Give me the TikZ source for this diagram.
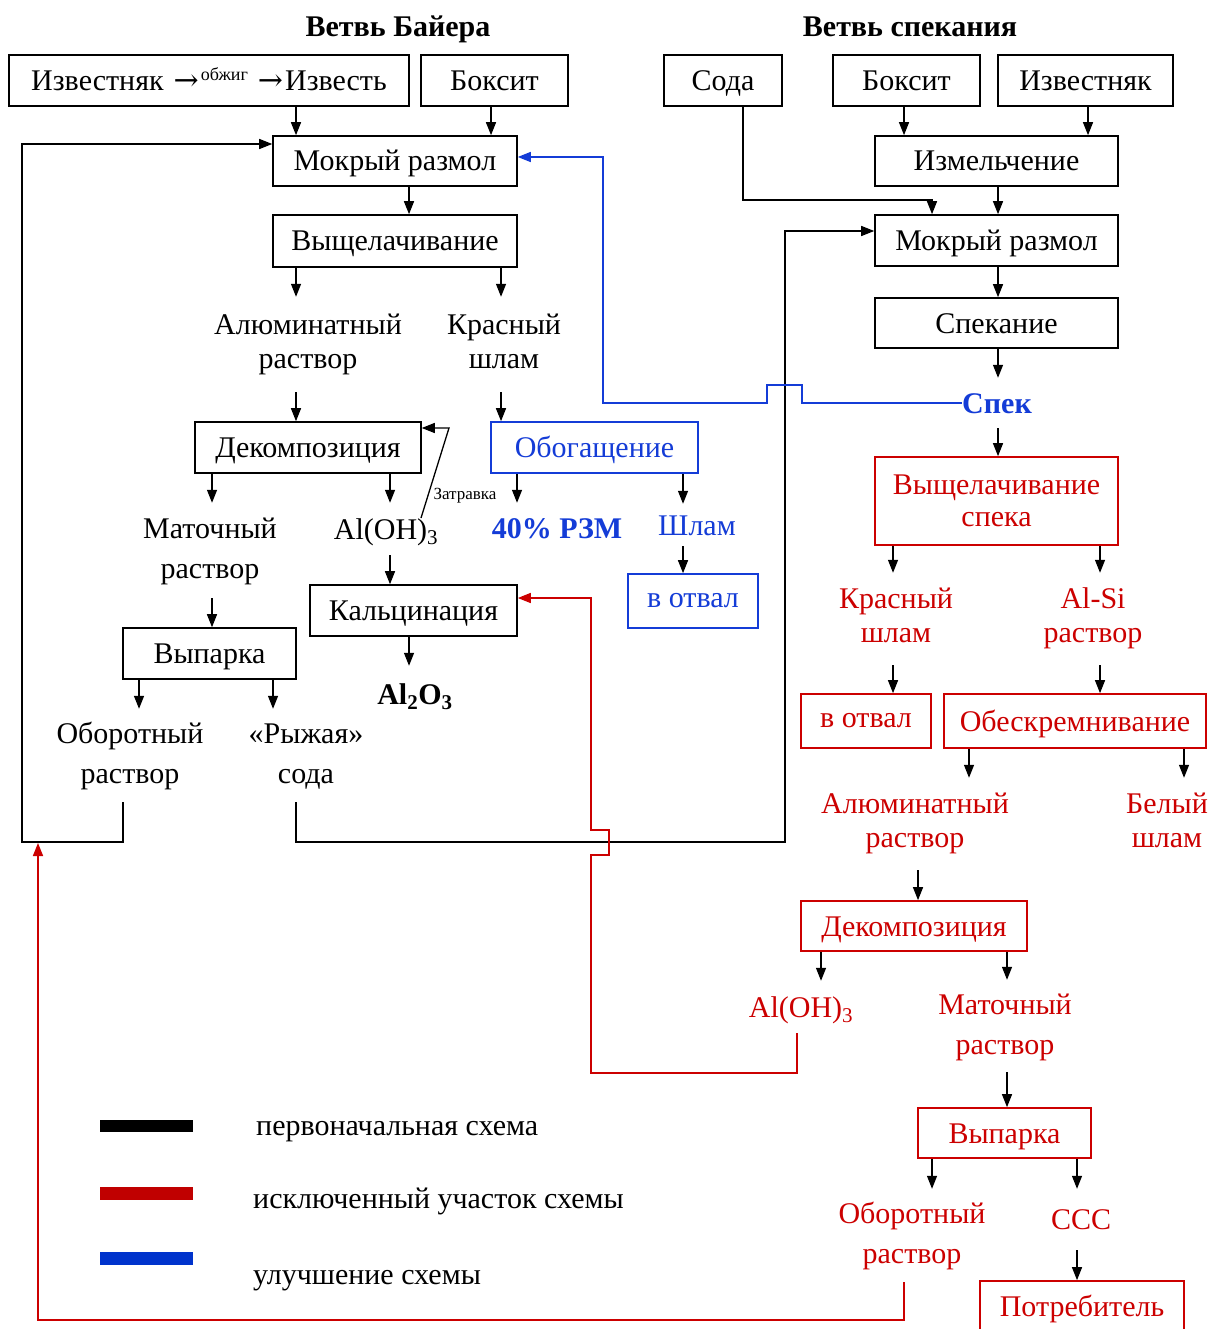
\documentclass[tikz,border=0pt]{standalone}
\usepackage{fontspec}
\setmainfont{Liberation Serif}
\newfontfamily\arrfont{DejaVu Serif}
\usetikzlibrary{arrows.meta}
\definecolor{myred}{RGB}{204,0,0}
\definecolor{myblue}{RGB}{20,60,215}
\definecolor{legred}{RGB}{192,0,0}
\definecolor{legblue}{RGB}{0,51,204}
\newcommand\myfs{\fontsize{30}{34}\selectfont}
\newcommand\myfsw{\fontsize{30}{40}\selectfont}
\tikzset{
 procbox/.style={draw, line width=1.6pt, inner sep=0pt, text height=20pt, text depth=0pt, font=\myfs},
 bluebox/.style={procbox, draw=myblue, text=myblue},
 redbox/.style={procbox, draw=myred, text=myred},
 redboxtwo/.style={draw=myred, text=myred, line width=1.6pt, inner sep=0pt, align=center, font=\fontsize{30}{32}\selectfont},
 lbl/.style={inner sep=0pt, text height=20pt, text depth=0pt, font=\myfs},
 lbltwo/.style={inner sep=0pt, align=center, font=\myfs},
 lbltwow/.style={inner sep=0pt, align=center, font=\myfsw},
 boldlbl/.style={lbl, font=\bfseries\myfs},
 arr/.style={line width=1.3pt, -{Triangle[length=13pt,width=10pt]}},
 barr/.style={line width=1.5pt, draw=myblue, -{Triangle[length=13pt,width=10pt]}},
 rarr/.style={line width=1.5pt, draw=myred, -{Triangle[length=13pt,width=10pt]}},
}
\begin{document}
\begin{tikzpicture}[x=1pt,y=-1pt]
\useasboundingbox (0,0) rectangle (1211,1329);
\fill[white] (0,0) rectangle (1211,1329);

% ---------- titles
\node[boldlbl] (tb) at (398,26.5) {Ветвь Байера};
\node[boldlbl] (ts) at (910,26.5) {Ветвь спекания};

% ---------- Bayer branch
\node[procbox, minimum width=400pt, minimum height=51pt] (b1) at (209,80.5)
  {Известняк\hspace{10pt}{\arrfont →}\hspace{2pt}\raisebox{10pt}{\fontsize{18}{18}\selectfont обжиг}\hspace{10pt}{\arrfont →}\hspace{2pt}Известь};
\node[procbox, minimum width=147pt, minimum height=51pt] (b2) at (494.5,80.5) {Боксит};
\node[procbox, minimum width=244pt, minimum height=50pt] (mr1) at (395,161) {Мокрый размол};
\node[procbox, minimum width=244pt, minimum height=52pt] (vy1) at (395,241) {Выщелачивание};
\node[lbltwo, minimum width=196pt, minimum height=95pt] (alu1) at (308,344.5) {\strut Алюминатный\\\strut раствор};
\node[lbltwo, minimum width=118pt, minimum height=95pt] (krs1) at (504,344.5) {\strut Красный\\\strut шлам};
\node[procbox, minimum width=226pt, minimum height=51pt] (dek1) at (308,447.5) {Декомпозиция};
\node[bluebox, minimum width=207pt, minimum height=51pt] (obog) at (594.5,447.5) {Обогащение};
\node[lbltwow, minimum width=140pt, minimum height=95pt] (mat1) at (210,550.5) {\strut Маточный\\\strut раствор};
\node[lbl, minimum width=102pt, minimum height=52pt] (aloh1) at (386,529) {Al(OH)\textsubscript{3}};
\node[boldlbl, text=myblue, minimum height=50pt] (rzm) at (557,528) {40\% РЗМ};
\node[lbl, text=myblue, minimum height=42pt] (shl) at (697,525) {Шлам};
\node[bluebox, text height=12pt, minimum width=130pt, minimum height=54pt] (otv1) at (693,601) {в отвал};
\node[procbox, minimum width=207pt, minimum height=51pt] (kalc) at (413.5,610.5) {Кальцинация};
\node[procbox, minimum width=173pt, minimum height=51pt] (vyp1) at (209.5,653.5) {Выпарка};
\node[boldlbl, minimum height=56pt] (al2o3) at (415,694) {Al\textsubscript{2}O\textsubscript{3}};
\node[lbltwow, minimum width=150pt, minimum height=93pt] (obr1) at (130,755.5) {\strut Оборотный\\\strut раствор};
\node[lbltwow, minimum width=118pt, minimum height=93pt] (ryz) at (306,755.5) {\strut «Рыжая»\\\strut сода};
\node[lbl, font=\fontsize{17}{17}\selectfont, text height=11.3pt] (zatr) at (465,494) {Затравка};
\coordinate (zs) at (421,518);

% ---------- Sinter branch
\node[procbox, minimum width=118pt, minimum height=51pt] (soda) at (723,80.5) {Сода};
\node[procbox, minimum width=147pt, minimum height=51pt] (b3) at (906.5,80.5) {Боксит};
\node[procbox, minimum width=175pt, minimum height=51pt] (izv) at (1085.5,80.5) {Известняк};
\node[procbox, minimum width=243pt, minimum height=50pt] (izm) at (996.5,161) {Измельчение};
\node[procbox, minimum width=243pt, minimum height=51pt] (mr2) at (996.5,240.5) {Мокрый размол};
\node[procbox, minimum width=243pt, minimum height=50pt] (spk) at (996.5,323) {Спекание};
\node[boldlbl, text=myblue, minimum width=70pt, minimum height=50pt] (spek) at (997,403) {Спек};
\node[redboxtwo, minimum width=243pt, minimum height=88pt] (vys) at (996.5,501) {Выщелачивание\\спека};
\node[lbltwo, text=myred, minimum width=118pt, minimum height=92pt] (krs2) at (896,619) {\strut Красный\\\strut шлам};
\node[lbltwo, text=myred, minimum width=104pt, minimum height=92pt] (alsi) at (1093,619) {\strut Al-Si\\\strut раствор};
\node[redbox, text height=12pt, minimum width=130pt, minimum height=54pt] (otv2) at (866,721) {в отвал};
\node[redbox, minimum width=262pt, minimum height=54pt] (obes) at (1075,721) {Обескремнивание};
\node[lbltwo, text=myred, minimum width=192pt, minimum height=92pt] (alu2) at (915,824) {\strut Алюминатный\\\strut раствор};
\node[lbltwo, text=myred, minimum width=84pt, minimum height=92pt] (bel) at (1167,824) {\strut Белый\\\strut шлам};
\node[redbox, minimum width=226pt, minimum height=50pt] (dek2) at (914,926) {Декомпозиция};
\node[lbl, text=myred, minimum width=102pt, minimum height=52pt] (aloh2) at (801,1007) {Al(OH)\textsubscript{3}};
\node[lbltwow, text=myred, minimum width=140pt, minimum height=92pt] (mat2) at (1005,1026) {\strut Маточный\\\strut раствор};
\node[redbox, minimum width=173pt, minimum height=50pt] (vyp2) at (1004.5,1133) {Выпарка};
\node[lbltwow, text=myred, minimum width=150pt, minimum height=93pt] (obr2) at (912,1235.5) {\strut Оборотный\\\strut раствор};
\node[lbl, text=myred, minimum width=60pt, minimum height=61pt] (ccc) at (1081,1219.5) {ССС};
\node[redbox, minimum width=204pt, minimum height=50pt] (potr) at (1082,1306) {Потребитель};
\coordinate (loopc) at (38,843);

% ---------- legend
\fill[black] (100,1120) rectangle (193,1132);
\fill[legred] (100,1187) rectangle (193,1200);
\fill[legblue] (100,1252) rectangle (193,1265);
\node[lbl, anchor=west] (lg1) at (256,1125) {первоначальная схема};
\node[lbl, anchor=west] (lg2) at (253,1198) {исключенный участок схемы};
\node[lbl, anchor=west] (lg3) at (253,1274) {улучшение схемы};

% ---------- black connectors, Bayer
\draw[arr] (b1.south -| 296,0) -- (mr1.north -| 296,0);
\draw[arr] (b2.south -| 491,0) -- (mr1.north -| 491,0);
\draw[arr] (mr1.south -| 409,0) -- (vy1.north -| 409,0);
\draw[arr] (vy1.south -| 296,0) -- (alu1.north -| 296,0);
\draw[arr] (vy1.south -| 501,0) -- (krs1.north -| 501,0);
\draw[arr] (alu1.south -| 296,0) -- (dek1.north -| 296,0);
\draw[arr] (krs1.south -| 501,0) -- (obog.north -| 501,0);
\draw[arr] (dek1.south -| 212,0) -- (mat1.north -| 212,0);
\draw[arr] (dek1.south -| 390,0) -- (aloh1.north -| 390,0);
\draw[arr] (zs) -- (449,428) -- (dek1.east |- 0,428);
\draw[arr] (obog.south -| 517,0) -- (rzm.north -| 517,0);
\draw[arr] (obog.south -| 683,0) -- (shl.north -| 683,0);
\draw[arr] (shl.south -| 683,0) -- (otv1.north -| 683,0);
\draw[arr] (mat1.south -| 212,0) -- (vyp1.north -| 212,0);
\draw[arr] (aloh1.south -| 390,0) -- (kalc.north -| 390,0);
\draw[arr] (kalc.south -| 409,0) -- (al2o3.north -| 409,0);
\draw[arr] (vyp1.south -| 139,0) -- (obr1.north -| 139,0);
\draw[arr] (vyp1.south -| 273,0) -- (ryz.north -| 273,0);
\draw[arr] (obr1.south -| 123,0) -- (123,842) -- (22,842) -- (22,144) -- (mr1.west |- 0,144);
\draw[arr] (ryz.south -| 296,0) -- (296,842) -- (785,842) -- (785,231) -- (mr2.west |- 0,231);

% ---------- black connectors, sinter
\draw[arr] (soda.south -| 743,0) -- (743,200) -- (932,200) -- (mr2.north -| 932,0);
\draw[arr] (b3.south -| 904,0) -- (izm.north -| 904,0);
\draw[arr] (izv.south -| 1088,0) -- (izm.north -| 1088,0);
\draw[arr] (izm.south -| 998,0) -- (mr2.north -| 998,0);
\draw[arr] (mr2.south -| 998,0) -- (spk.north -| 998,0);
\draw[arr] (spk.south -| 998,0) -- (spek.north -| 998,0);
\draw[arr] (spek.south -| 998,0) -- (vys.north -| 998,0);
\draw[arr] (vys.south -| 893,0) -- (krs2.north -| 893,0);
\draw[arr] (vys.south -| 1100,0) -- (alsi.north -| 1100,0);
\draw[arr] (krs2.south -| 893,0) -- (otv2.north -| 893,0);
\draw[arr] (alsi.south -| 1100,0) -- (obes.north -| 1100,0);
\draw[arr] (obes.south -| 969,0) -- (alu2.north -| 969,0);
\draw[arr] (obes.south -| 1184,0) -- (bel.north -| 1184,0);
\draw[arr] (alu2.south -| 918,0) -- (dek2.north -| 918,0);
\draw[arr] (dek2.south -| 821,0) -- (aloh2.north -| 821,0);
\draw[arr] (dek2.south -| 1007,0) -- (mat2.north -| 1007,0);
\draw[arr] (mat2.south -| 1007,0) -- (vyp2.north -| 1007,0);
\draw[arr] (vyp2.south -| 932,0) -- (obr2.north -| 932,0);
\draw[arr] (vyp2.south -| 1077,0) -- (ccc.north -| 1077,0);
\draw[arr] (ccc.south -| 1077,0) -- (potr.north -| 1077,0);

% ---------- blue improvement
\draw[barr] (spek.west) -- (802,403) -- (802,385) -- (767,385) -- (767,403) -- (603,403) -- (603,157) -- (mr1.east |- 0,157);

% ---------- red excluded
\draw[rarr] (aloh2.south -| 797,0) -- (797,1073) -- (591,1073) -- (591,855) -- (609,855) -- (609,830) -- (591,830) -- (591,598) -- (kalc.east |- 0,598);
\draw[rarr] (obr2.south -| 904,0) -- (904,1320) -- (38,1320) -- (loopc);
\end{tikzpicture}
\end{document}
